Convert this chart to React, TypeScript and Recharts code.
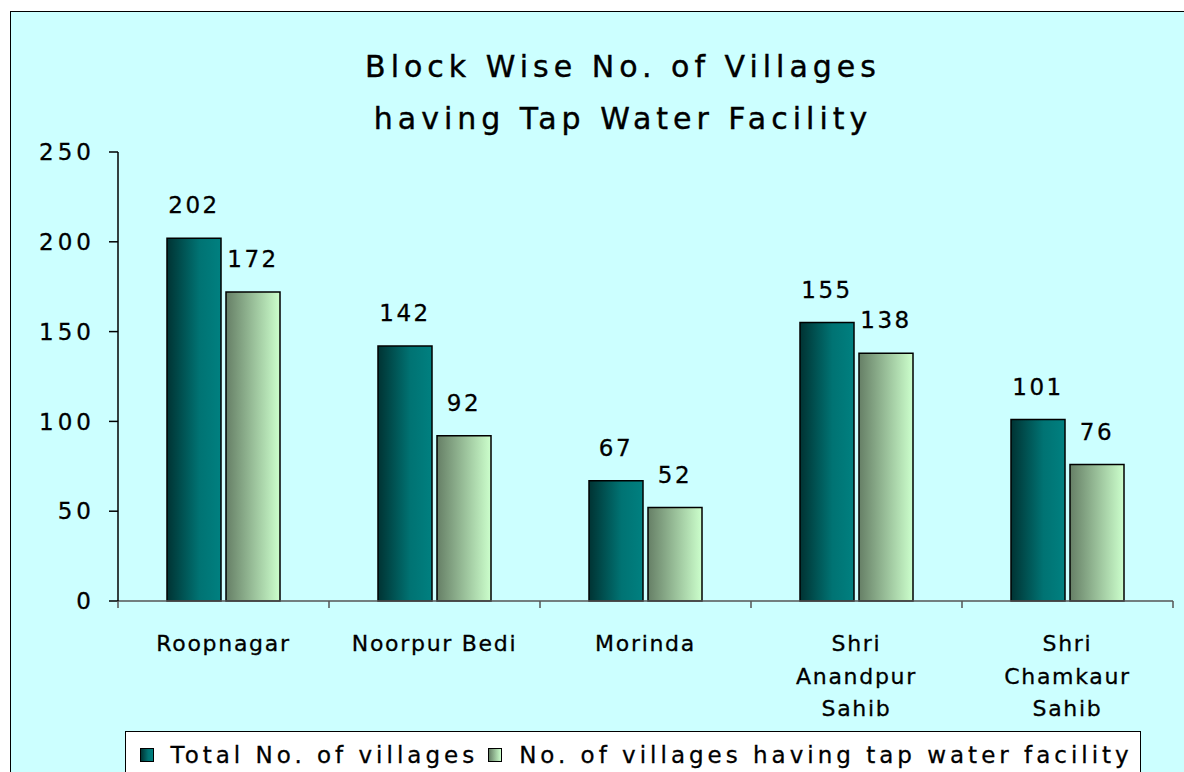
import React from 'react';
import { BarChart, Bar, XAxis, YAxis, Legend, LabelList } from 'recharts';

const blocks = ['Roopnagar', 'Noorpur Bedi', 'Morinda', 'Shri\nAnandpur\nSahib', 'Shri\nChamkaur\nSahib'];
const totalVillages = [202, 142, 67, 155, 101];
const tapWaterVillages = [172, 92, 52, 138, 76];
const yTicks = [0, 50, 100, 150, 200, 250];

const titleLines = ['Block Wise No. of Villages', 'having Tap Water Facility'];
const seriesOrder = ['total', 'tap'];

const data = blocks.map((name, i) => ({
  name,
  total: totalVillages[i],
  tap: tapWaterVillages[i],
}));

const FONT = '"DejaVu Sans", Verdana, sans-serif';
const W = 1184;
const H = 772;
const M = { top: 152, right: 11, bottom: 0, left: 0 };
const Y_W = 118;
const BAND = (W - M.left - M.right - Y_W) / blocks.length;

const XTick = (props: any) => {
  const { x, y, payload, index } = props;
  const lines = String(payload.value).split('\n');
  const half = BAND / 2;
  return (
    <g>
      <line x1={x - half} y1={y} x2={x - half} y2={y + 7} stroke="#555" strokeWidth={1.5} />
      {index === blocks.length - 1 && (
        <line x1={x + half} y1={y} x2={x + half} y2={y + 7} stroke="#555" strokeWidth={1.5} />
      )}
      <text
        textAnchor="middle"
        fontSize={22}
        fontFamily={FONT}
        fill="#000"
        stroke="#000"
        strokeWidth={0.3}
        letterSpacing={1.7}
      >
        {lines.map((l, i) => (
          <tspan key={i} x={x} y={y + 50 + i * 32.5}>
            {l}
          </tspan>
        ))}
      </text>
    </g>
  );
};

const swatch: Record<string, string> = {
  total: 'linear-gradient(to right, #003333, #007373 60%, #008080)',
  tap: 'linear-gradient(to right, #667f66, #ccffcc)',
};

const renderLegend = (props: any) => {
  const items = [...(props.payload || [])].sort(
    (a: any, b: any) => seriesOrder.indexOf(a.dataKey) - seriesOrder.indexOf(b.dataKey)
  );
  return (
    <div
      style={{
        width: 1016,
        height: 48,
        boxSizing: 'border-box',
        background: '#fff',
        border: '1.5px solid #000',
        display: 'flex',
        alignItems: 'center',
        paddingLeft: 13.5,
        fontFamily: FONT,
        fontSize: 23,
        letterSpacing: 4,
        color: '#000',
        whiteSpace: 'nowrap',
        WebkitTextStroke: '0.3px #000',
      }}
    >
      {items.map((it: any, i: number) => (
        <div key={i} style={{ display: 'flex', alignItems: 'center', marginRight: 10, flexShrink: 0 }}>
          <span
            style={{
              display: 'inline-block',
              width: 14,
              height: 14,
              flexShrink: 0,
              boxSizing: 'border-box',
              border: '1.5px solid #000',
              background: swatch[it.dataKey],
              marginRight: 17,
            }}
          />
          <span>{it.value}</span>
        </div>
      ))}
    </div>
  );
};

const labelProps = {
  position: 'top' as const,
  offset: 25,
  fill: '#000',
  stroke: '#000',
  strokeWidth: 0.3,
  fontSize: 23,
  fontFamily: FONT,
  letterSpacing: 2.5,
};

export default function App() {
  return (
    <div
      style={{
        position: 'absolute',
        left: 0,
        top: 0,
        width: W,
        height: H,
        overflow: 'hidden',
        background: '#fff',
      }}
    >
      <div
        style={{
          position: 'absolute',
          left: 10,
          top: 11,
          width: 1220,
          height: 800,
          background: '#ccffff',
          border: '1.5px solid #000',
        }}
      />
      <div
        style={{
          position: 'absolute',
          left: 223,
          top: 41,
          width: 800,
          textAlign: 'center',
          fontFamily: FONT,
          fontSize: 30,
          lineHeight: '52px',
          letterSpacing: 5,
          color: '#000',
          WebkitTextStroke: '0.4px #000',
        }}
      >
        {titleLines.map((t, i) => (
          <div key={i}>{t}</div>
        ))}
      </div>
      <div style={{ position: 'absolute', left: 0, top: 0 }}>
        <BarChart width={W} height={H} data={data} margin={M} barSize={54} barGap={5}>
          <defs>
            <linearGradient id="gTotal" x1="0" y1="0" x2="1" y2="0">
              <stop offset="0%" stopColor="#003333" />
              <stop offset="60%" stopColor="#007373" />
              <stop offset="100%" stopColor="#008080" />
            </linearGradient>
            <linearGradient id="gTap" x1="0" y1="0" x2="1" y2="0">
              <stop offset="0%" stopColor="#667f66" />
              <stop offset="100%" stopColor="#ccffcc" />
            </linearGradient>
          </defs>
          <XAxis
            dataKey="name"
            interval={0}
            height={171}
            tickLine={false}
            tickSize={0}
            tickMargin={0}
            stroke="#555"
            strokeWidth={1.5}
            tick={<XTick />}
          />
          <YAxis
            width={Y_W}
            domain={[0, 250]}
            ticks={yTicks}
            interval={0}
            stroke="#000"
            strokeWidth={1.5}
            tickSize={9}
            tickMargin={14}
            tick={{ fontSize: 23, fill: '#000', stroke: '#000', strokeWidth: 0.3, fontFamily: FONT, letterSpacing: 4 }}
          />
          <Legend
            layout="horizontal"
            verticalAlign="middle"
            align="center"
            content={renderLegend}
            wrapperStyle={{ left: 125, top: 731, width: 1016, height: 48 }}
          />
          <Bar
            dataKey="total"
            name="Total No. of villages"
            fill="url(#gTotal)"
            stroke="#000"
            strokeWidth={1.5}
            isAnimationActive={false}
          >
            <LabelList dataKey="total" {...labelProps} />
          </Bar>
          <Bar
            dataKey="tap"
            name="No. of villages having tap water facility"
            fill="url(#gTap)"
            stroke="#000"
            strokeWidth={1.5}
            isAnimationActive={false}
          >
            <LabelList dataKey="tap" {...labelProps} />
          </Bar>
        </BarChart>
      </div>
    </div>
  );
}
